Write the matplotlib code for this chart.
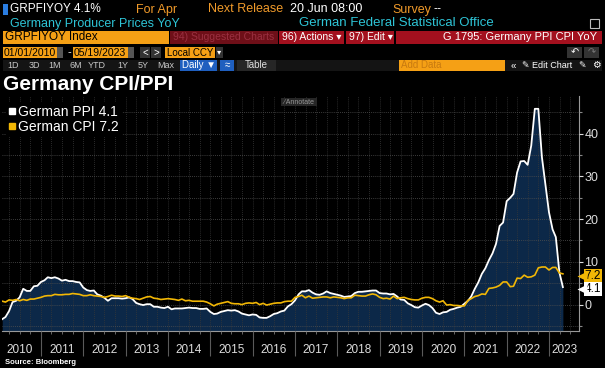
import pandas as pd
import matplotlib
matplotlib.use("Agg")
import matplotlib.pyplot as plt
import matplotlib.dates as mdates
from matplotlib.patches import Rectangle
from matplotlib.lines import Line2D
from matplotlib.transforms import blended_transform_factory, offset_copy

plt.rcParams['font.family'] = ['Liberation Sans', 'DejaVu Sans']

# monthly YoY values, Jan 2010 .. Apr 2023
dates = pd.date_range('2010-01-31', periods=160, freq='ME')

ppi = [
    -3.4, -2.9, -1.5, 0.6, 0.9, 1.7, 3.7, 3.2, 3.2, 4.3, 4.4, 5.3,
    5.7, 6.4, 6.2, 6.4, 6.1, 5.6, 5.8, 5.5, 5.5, 5.3, 5.2, 4.0,
    3.4, 3.2, 3.3, 2.4, 2.1, 1.6, 0.9, 1.5, 1.5, 1.5, 1.4, 1.5,
    1.7, 1.3, 0.4, 0.1, -0.1, 0.1, 0.1, -0.5, -0.5, -0.7, -0.8, -0.5,
    -1.1, -0.9, -0.9, -0.9, -0.8, -0.7, -0.8, -0.8, -1.0, -1.0, -0.9, -1.7,
    -2.2, -2.1, -1.7, -1.5, -1.3, -1.4, -1.3, -1.6, -2.1, -2.3, -2.5, -2.3,
    -2.4, -3.0, -3.1, -3.1, -2.7, -2.2, -2.0, -1.6, -1.4, -0.4, 0.1, 1.0,
    2.4, 3.1, 3.1, 3.4, 2.8, 2.4, 2.3, 2.6, 3.1, 2.7, 2.5, 2.3,
    2.1, 1.8, 1.9, 2.0, 2.7, 3.0, 3.0, 3.1, 3.2, 3.3, 3.3, 2.7,
    2.6, 2.6, 2.4, 2.5, 1.9, 1.2, 1.1, 0.3, -0.1, -0.6, -0.7, -0.2,
    0.2, -0.1, -0.8, -1.9, -2.2, -1.8, -1.7, -1.2, -1.0, -0.7, -0.5, 0.2,
    0.9, 1.9, 3.7, 5.2, 7.2, 8.5, 10.4, 12.0, 14.2, 18.4, 19.2, 24.2,
    25.0, 25.9, 30.9, 33.5, 33.6, 32.7, 37.2, 45.8, 45.8, 34.5, 28.2, 21.6,
    17.6, 15.8, 7.5, 4.1,
]

cpi = [
    0.8, 0.6, 1.1, 1.0, 1.2, 0.9, 1.2, 1.0, 1.3, 1.3, 1.5, 1.7,
    2.0, 2.1, 2.1, 2.4, 2.3, 2.3, 2.4, 2.4, 2.6, 2.5, 2.4, 2.1,
    2.1, 2.3, 2.1, 2.0, 1.9, 1.7, 1.9, 2.2, 2.0, 2.0, 1.9, 2.1,
    1.7, 1.5, 1.4, 1.2, 1.5, 1.8, 1.9, 1.5, 1.4, 1.2, 1.3, 1.4,
    1.3, 1.2, 1.0, 1.3, 0.9, 1.0, 0.8, 0.8, 0.8, 0.8, 0.6, 0.2,
    -0.3, 0.1, 0.3, 0.5, 0.7, 0.3, 0.2, 0.2, 0.0, 0.3, 0.4, 0.3,
    0.5, 0.0, 0.3, -0.1, 0.1, 0.3, 0.4, 0.4, 0.7, 0.8, 0.8, 1.7,
    1.9, 2.2, 1.6, 2.0, 1.5, 1.6, 1.7, 1.8, 1.8, 1.6, 1.8, 1.7,
    1.6, 1.4, 1.6, 1.6, 2.2, 2.1, 2.0, 2.0, 2.3, 2.5, 2.3, 1.7,
    1.4, 1.5, 1.3, 2.0, 1.4, 1.6, 1.7, 1.4, 1.2, 1.1, 1.1, 1.5,
    1.7, 1.7, 1.4, 0.9, 0.6, 0.9, -0.1, 0.0, -0.2, -0.2, -0.3, -0.3,
    1.0, 1.4, 1.9, 2.1, 2.5, 2.4, 3.8, 3.9, 4.1, 4.5, 5.3, 5.3,
    4.2, 4.3, 6.2, 6.1, 6.9, 6.4, 6.5, 6.9, 8.6, 8.8, 8.8, 8.1,
    8.7, 8.7, 7.4, 7.2,
]

year_labels = [str(y) for y in range(2010, 2024)]

W, H = 605, 368
ORANGE = '#f09a2a'
CYAN = '#2ec4d6'
BOX_ORANGE = '#f5a015'
RED = '#a3101e'
NAVY = '#0c2848'
GOLD = '#f2b705'

fig = plt.figure(figsize=(W / 100, H / 100), dpi=100, facecolor='black')


def fx(x):
    return x / W


def fy(y):
    return 1 - y / H


def box(x0, y0, x1, y1, color):
    fig.patches.append(Rectangle((fx(x0), fy(y1)), (x1 - x0) / W, (y1 - y0) / H,
                                 transform=fig.transFigure, facecolor=color,
                                 edgecolor='none', zorder=0))


def label(x, y, s, color, size=9, ha='left', weight='normal', va='center'):
    fig.text(fx(x), fy(y), s, color=color, fontsize=size, ha=ha, va=va,
             fontweight=weight)


# --- header bar ---
box(3, 4, 8, 15, '#2a7de1')
label(10, 9.5, 'GRPFIYOY 4.1%', 'white', size=8.5)
label(136, 9.5, 'For Apr', ORANGE)
label(208, 9.5, 'Next Release', ORANGE)
label(290, 9.5, '20 Jun 08:00', 'white')
label(392, 9.5, 'Survey', ORANGE)
label(433, 9.5, '--', 'white')

label(10, 23.5, 'Germany Producer Prices YoY', CYAN)
label(299, 23.5, 'German Federal Statistical Office', CYAN, size=9.5)
fig.patches.append(Rectangle((fx(590), fy(28)), 9 / W, 9 / H, transform=fig.transFigure,
                             facecolor='none', edgecolor='#bbbbbb', lw=0.8))

box(3, 31, 169, 44, BOX_ORANGE)
label(5, 37.5, 'GRPFIYOY Index', 'black', size=8.5)
box(170, 31, 278, 44, '#6e0f18')
label(173, 37.5, '94) Suggested Charts', '#9a3040', size=7.5)
box(279, 31, 344, 44, RED)
label(282, 37.5, '96) Actions \u25be', 'white', size=7.5)
box(346, 31, 394, 44, RED)
label(349, 37.5, '97) Edit \u25be', 'white', size=7.5)
box(396, 31, 602, 44, RED)
label(597, 37.5, 'G 1795: Germany PPI CPI YoY', 'white', size=8, ha='right')

box(3, 47, 57, 58, BOX_ORANGE)
label(4, 52.5, '01/01/2010', 'black', size=7.5)
box(57, 47, 63, 58, '#555555')
label(68, 52.5, '-', 'white', size=8)
box(73, 47, 128, 58, BOX_ORANGE)
label(74, 52.5, '05/19/2023', 'black', size=7.5)
box(128, 47, 134, 58, '#555555')
box(140, 47, 150, 58, '#333333')
label(145, 52.5, '<', 'white', size=7, ha='center')
box(151, 47, 161, 58, '#333333')
label(156, 52.5, '>', 'white', size=7, ha='center')
box(165, 47, 215, 58, BOX_ORANGE)
label(167, 52.5, 'Local CCY', 'black', size=7)
box(216, 47, 223, 58, '#333333')
label(219.5, 52.5, '\u25be', 'white', size=6, ha='center')
box(567, 47, 582, 58, '#333333')
label(574.5, 52.5, '\u21b6', 'white', size=7, ha='center')
box(584, 47, 599, 58, '#333333')
label(591.5, 52.5, '\u21b7', '#777777', size=7, ha='center')

box(3, 60, 602, 71, '#141414')
for x, s in zip([13.5, 34, 55, 75.7, 96.5, 122.8, 143, 166],
                ['1D', '3D', '1M', '6M', 'YTD', '1Y', '5Y', 'Max']):
    label(x, 65.5, s, '#c8c8c8', size=6.5, ha='center')
box(180, 60, 217, 71, '#1f5fbf')
label(198.5, 65.5, 'Daily \u25bc', 'white', size=7, ha='center')
box(220, 60, 234, 71, '#1f5fbf')
label(227, 65.5, '\u2248', 'white', size=7, ha='center')
box(237, 60, 276, 71, '#262626')
label(256, 65.5, 'Table', '#dddddd', size=7, ha='center')
box(399, 60, 505, 71, BOX_ORANGE)
label(401, 65.5, 'Add Data', '#c87a10', size=7)
label(513, 65.5, '\u00ab', 'white', size=7, ha='center')
label(522, 65.5, '\u270e Edit Chart', 'white', size=6.5)
label(582, 65.5, '\u270e', 'white', size=6.5, ha='center')
label(596, 65.5, '\u2699', 'white', size=7, ha='center')

# --- title ---
label(3, 89.5, 'Germany CPI/PPI', 'white', size=15, weight='bold', va='baseline')

# --- chart ---
ax = fig.add_axes([fx(2), fy(330.7), (579 - 2) / W, (330.7 - 96) / H])
ax.set_facecolor('black')

ax.fill_between(dates, ppi, -10, color=NAVY, lw=0, zorder=1)
ax.plot(dates, ppi, color='white', lw=1.3, zorder=3)
ax.plot(dates, cpi, color=GOLD, lw=1.2, zorder=3)

ax.set_xlim(pd.Timestamp('2010-01-29'), pd.Timestamp('2023-09-16'))
ax.set_ylim(-6.1, 48.8)

ax.yaxis.tick_right()
ax.set_yticks([0, 10, 20, 30, 40])
ax.set_yticks([-5, 5, 15, 25, 35, 45], minor=True)
ax.tick_params(axis='y', which='major', colors='#dddddd', labelsize=9, length=3,
               pad=1, width=0.8)
ax.tick_params(axis='y', which='minor', colors='#888888', length=2, width=0.8)

ax.xaxis.set_major_locator(mdates.YearLocator())
ax.xaxis.set_minor_locator(mdates.MonthLocator(bymonth=(4, 7, 10)))
ax.tick_params(axis='x', which='major', length=18, width=0.8, colors='#5a5a5a',
               labelbottom=False)
ax.tick_params(axis='x', which='minor', length=2.5, width=0.6, colors='#777777')

ax.grid(True, which='both', axis='x', color='#383838', ls=(0, (1, 1.5)), lw=0.6)
ax.grid(True, which='both', axis='y', color='#505050', ls=(0, (1, 1.5)), lw=0.6)
ax.set_axisbelow(False)

for side in ['top', 'left']:
    ax.spines[side].set_visible(False)
ax.spines['right'].set_color('#999999')
ax.spines['bottom'].set_color('#999999')

# year labels centred in each year
trans = blended_transform_factory(ax.transData, ax.transAxes)
for yl in year_labels:
    pos = pd.Timestamp(yl + '-07-01') if yl != '2023' else pd.Timestamp('2023-05-10')
    ax.text(pos, -0.082, yl, transform=trans, color='#dddddd', fontsize=8.5,
            ha='center', va='center', clip_on=False)

# last value tags on the right axis, nudged down a little like the terminal does
ytr = offset_copy(ax.get_yaxis_transform(), fig=fig, x=0, y=-2, units='dots')
for val, txt, col in [(cpi[-1], '7.2', GOLD), (ppi[-1], '4.1', 'white')]:
    ax.text(1 + 14 / 577, val, txt, transform=ytr, ha='center', va='center',
            fontsize=8.5, color='black', clip_on=False, zorder=6,
            bbox=dict(boxstyle='square,pad=0.06', fc=col, ec='none'))
    ax.plot([1 + 2.5 / 577], [val], marker='<', ms=6.5, color=col, mec='none',
            transform=ytr, clip_on=False, zorder=6)

# legend
handles = [Line2D([], [], marker='s', ls='none', color='white', ms=5),
           Line2D([], [], marker='s', ls='none', color=GOLD, ms=5)]
leg = ax.legend(handles, ['German PPI 4.1', 'German CPI 7.2'], loc='upper left',
                bbox_to_anchor=(fx(6), fy(102)), bbox_transform=fig.transFigure,
                fontsize=10, labelcolor='white', facecolor='black', edgecolor='none',
                framealpha=1, handlelength=0.5, handletextpad=0.2, borderpad=0.2,
                labelspacing=0.1, borderaxespad=0, fancybox=False)
leg.set_zorder(7)

# annotate button
box(281, 98, 317, 106, '#262626')
fig.patches[-1].set_zorder(8)
fig.text(fx(299), fy(102), '\u2215 Annotate', color='#9a9a9a', fontsize=5,
         ha='center', va='center', zorder=9)

label(5, 362, 'Source: Bloomberg', 'white', size=5.5, weight='bold')

fig.savefig('out.png', dpi=100, facecolor='black')
